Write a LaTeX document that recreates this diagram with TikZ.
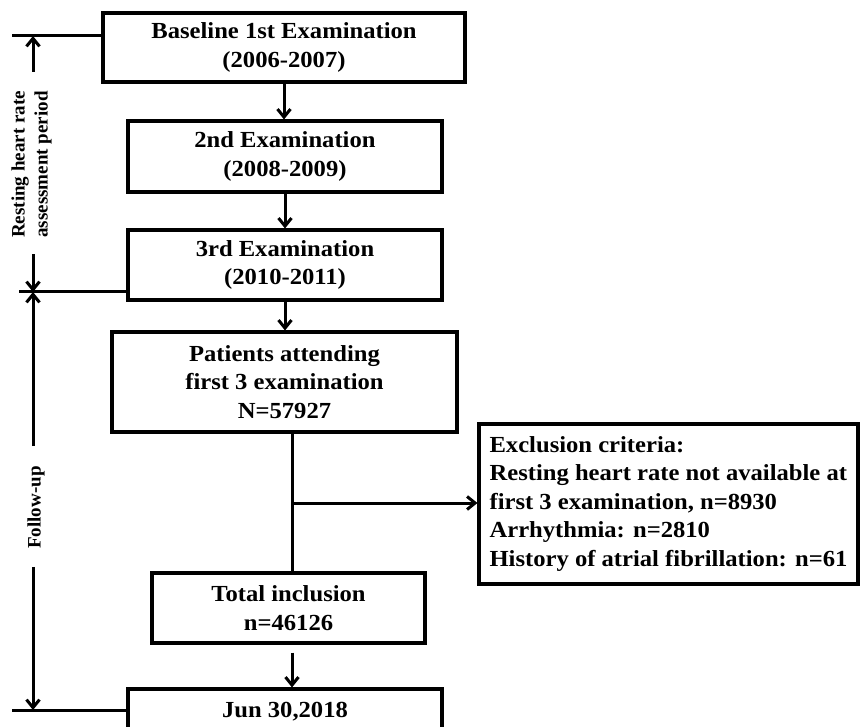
\documentclass[tikz,border=0pt]{standalone}
\usepackage{fontspec}
\setmainfont{Liberation Serif}[FakeStretch=1.07]
\newfontfamily\sidefont{Liberation Serif}
\usetikzlibrary{arrows.meta,positioning}
\tikzset{
	box/.style={draw, line width=3.1pt, align=center, inner sep=0pt, font=\fontsize{23}{28.5}\selectfont\bfseries},
	side/.style={rotate=90, align=center, inner sep=0pt, font=\sidefont\fontsize{19}{23}\selectfont\bfseries},
	link/.style={line width=3pt},
}

\begin{document}
\begin{tikzpicture}[x=1pt, y=-1pt, >={Straight Barb[length=8pt,width=13pt]}]

	\useasboundingbox (0,0) rectangle (860,727);
	\clip (0,0) rectangle (860,727);

	\node[box, minimum width=362pt, minimum height=69pt] (E1) at (284,47.5) {Baseline 1st Examination\\(2006-2007)};
	\node[box, minimum width=314pt, minimum height=71pt] (E2) at (285,156.5) {2nd Examination\\(2008-2009)};
	\node[box, minimum width=314pt, minimum height=70pt] (E3) at (285,265) {3rd Examination\\(2010-2011)};
	\node[box, minimum width=345pt, minimum height=100pt] (P) at (284.5,382) {Patients attending\\first 3 examination\\N=57927};
	\node[box, minimum width=273pt, minimum height=70pt] (T) at (288.5,608) {Total inclusion\\n=46126};
	\node[box, minimum width=314pt, minimum height=46pt] (J) at (285,712) {Jun 30,2018}; % box runs off the bottom edge
	\node[box, align=left, minimum width=379pt, minimum height=160pt] (X) at (668.5,504) {Exclusion criteria:\\Resting heart rate not available at\\first 3 examination, n=8930\\Arrhythmia: n=2810\\History of atrial fibrillation: n=61};

	\coordinate (S) at (292,503);
	\draw [link,->] (E1.south) -- (E2.north -| E1.south);
	\draw [link,->] (E2.south) -- (E3.north);
	\draw [link,->] (E3.south) -- (P.north -| E3.south);
	\draw [link] (P.south -| S) -- (T.north -| S);
	\draw [link,->] (S) -- (X.west |- S);
	\draw [link,->,shorten <=8pt] (T.south -| S) -- (J.north -| S);

	\node[side] (R) at (31.5,164.5) {Resting heart rate\\assessment period};
	\node[side] (F) at (36,507.5) {Follow-up};

	\coordinate (L1) at (12,36);
	\coordinate (L2) at (19,292);
	\coordinate (L3) at (12,710);
	\coordinate (A1) at (33,36);
	\coordinate (A2) at (33,292);
	\coordinate (A3) at (33,710);
	\draw [link] (L1) -- (E1.west |- L1);
	\draw [link] (L2) -- (E3.west |- L2);
	\draw [link] (L3) -- (J.west |- L3);

	\draw [link,->,shorten <=19pt] (A1 |- R.east) -- (A1);
	\draw [link,->,shorten <=16pt] (A2 |- R.west) -- (A2);
	\draw [link,->,shorten <=20pt] (A2 |- F.east) -- (A2);
	\draw [link,->,shorten <=18pt] (A3 |- F.west) -- (A3);

\end{tikzpicture}
\end{document}
